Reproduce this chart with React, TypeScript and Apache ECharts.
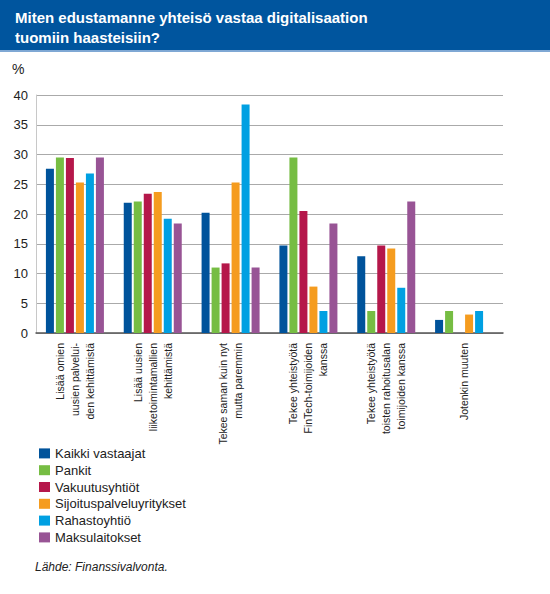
import React, { useRef, useEffect } from 'react';
import * as echarts from 'echarts';

const categories = [
  'Lisää omien\nuusien palvelui-\nden kehittämistä',
  'Lisää uusien\nliiketoimintamallien\nkehittämistä',
  'Tekee saman kuin nyt\nmutta paremmin',
  'Tekee yhteistyötä\nFinTech-toimijoiden\nkanssa',
  'Tekee yhteistyötä\ntoisten rahoitusalan\ntoimijoiden kanssa',
  'Jotenkin muuten',
];

const seriesNames = [
  'Kaikki vastaajat',
  'Pankit',
  'Vakuutusyhtiöt',
  'Sijoituspalveluyritykset',
  'Rahastoyhtiö',
  'Maksulaitokset',
];

const kaikki = [27.6, 21.9, 20.2, 14.7, 12.9, 2.2];
const pankit = [29.5, 22.1, 11.0, 29.5, 3.7, 3.7];
const vakuutus = [29.4, 23.4, 11.7, 20.5, 14.7, null];
const sijoitus = [25.3, 23.7, 25.3, 7.8, 14.2, 3.1];
const rahasto = [26.8, 19.2, 38.4, 3.7, 7.6, 3.7];
const maksu = [29.5, 18.4, 11.0, 18.4, 22.1, null];

const seriesValues = [kaikki, pankit, vakuutus, sijoitus, rahasto, maksu];
const colors = ['#00539b', '#76bd43', '#b5174a', '#f59c1f', '#00a0e2', '#985495'];

const FONT = '"Liberation Sans", Arial, sans-serif';

const App: React.FC = () => {
  const chartRef = useRef<HTMLDivElement>(null);

  useEffect(() => {
    document.body.style.margin = '0';
    if (!chartRef.current) return;
    const chart = echarts.init(chartRef.current, null, { renderer: 'svg' });

    const option: echarts.EChartsOption = {
      animation: false,
      textStyle: { fontFamily: FONT },
      color: colors,
      title: {
        text: 'Miten edustamanne yhteisö vastaa digitalisaation\ntuomiin haasteisiin?',
        left: 10,
        top: 2,
        textStyle: { color: '#fff', fontSize: 15, fontWeight: 'bold', lineHeight: 20, fontFamily: FONT },
      },
      graphic: [
        { type: 'rect', z: -1, shape: { x: 0, y: 0, width: 550, height: 50 }, style: { fill: '#00559e' } },
        { type: 'rect', z: -1, shape: { x: 0, y: 50, width: 550, height: 2 }, style: { fill: '#7fa8d4' } },
        { type: 'text', left: 12, top: 62, style: { text: '%', fontSize: 14, fill: '#222', fontFamily: FONT } },
        {
          type: 'text',
          left: 35,
          top: 561,
          style: { text: 'Lähde: Finanssivalvonta.', fontSize: 12, fontStyle: 'italic', fill: '#222', fontFamily: FONT },
        },
      ],
      legend: {
        orient: 'vertical',
        left: 34,
        top: 440,
        itemWidth: 11,
        itemHeight: 10,
        itemGap: 0,
        icon: 'rect',
        data: seriesNames,
        textStyle: { fontSize: 13, color: '#222', lineHeight: 16.8, fontFamily: FONT },
      },
      grid: { left: 36, right: 47, top: 95, bottom: 261, containLabel: false },
      xAxis: {
        type: 'category',
        data: categories,
        axisLine: { lineStyle: { color: '#555', width: 1.5 } },
        axisTick: { inside: true, length: 5, lineStyle: { color: '#555' } },
        axisLabel: {
          rotate: 90,
          interval: 0,
          margin: 10,
          fontSize: 10.5,
          lineHeight: 15,
          color: '#222',
          fontFamily: FONT,
        },
      },
      yAxis: {
        type: 'value',
        min: 0,
        max: 40,
        interval: 5,
        axisLine: { show: true, lineStyle: { color: '#c8c8c8' } },
        axisTick: { show: false },
        axisLabel: { fontSize: 13, color: '#222', margin: 8, fontFamily: FONT },
        splitLine: { lineStyle: { color: '#aaa', width: 1 } },
      },
      series: seriesNames.map((name, i) => ({
        name,
        type: 'bar',
        data: seriesValues[i],
        barWidth: 8,
        barGap: '25%',
        itemStyle: { color: colors[i] },
      })),
    };

    chart.setOption(option);
    return () => {
      chart.dispose();
    };
  }, []);

  return <div ref={chartRef} style={{ width: 550, height: 594 }} />;
};

export default App;
